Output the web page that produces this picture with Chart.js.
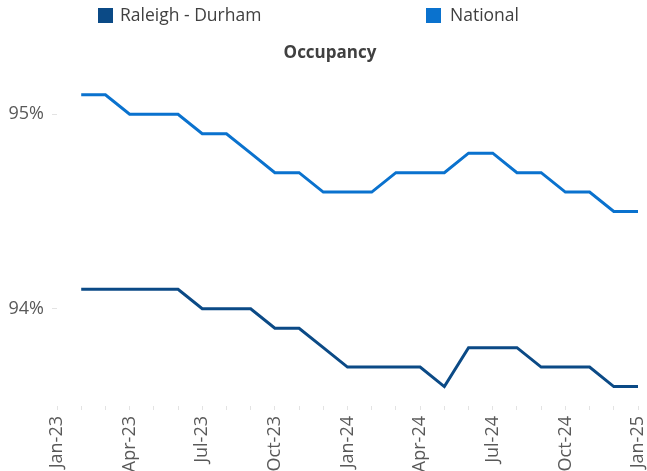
<!DOCTYPE html>
<html>
<head>
<meta charset="utf-8">
<script src="https://cdn.jsdelivr.net/npm/chart.js@4/dist/chart.umd.min.js"></script>
<style>
  html, body { margin: 0; padding: 0; background: #ffffff; }
  #wrap { position: relative; width: 647px; height: 471px; overflow: hidden; }
  #chart { position: absolute; left: 0; top: 0; }
  .lg-box { position: absolute; top: 8px; width: 15px; height: 15px; }
  .lg-text { position: absolute; top: 6px; font-family: "Open Sans", sans-serif; font-size: 17.5px; line-height: 1; color: #404040; white-space: nowrap; }
</style>
</head>
<body>
<div id="wrap">
  <canvas id="chart" width="647" height="471"></canvas>
  <div class="lg-box" id="lgBox0" style="left:98px;"></div>
  <div class="lg-text" id="lgText0" style="left:120px;"></div>
  <div class="lg-box" id="lgBox1" style="left:426px;"></div>
  <div class="lg-text" id="lgText1" style="left:450px;"></div>
</div>
<script>
// ---- Data ----
const months = ["Jan-23","Feb-23","Mar-23","Apr-23","May-23","Jun-23","Jul-23","Aug-23","Sep-23","Oct-23","Nov-23","Dec-23",
                "Jan-24","Feb-24","Mar-24","Apr-24","May-24","Jun-24","Jul-24","Aug-24","Sep-24","Oct-24","Nov-24","Dec-24",
                "Jan-25"];
const raleighDurham = [null, 94.1, 94.1, 94.1, 94.1, 94.1, 94.0, 94.0, 94.0, 93.9, 93.9, 93.8,
                       93.7, 93.7, 93.7, 93.7, 93.6, 93.8, 93.8, 93.8, 93.7, 93.7, 93.7, 93.6,
                       93.6];
const national = [null, 95.1, 95.1, 95.0, 95.0, 95.0, 94.9, 94.9, 94.8, 94.7, 94.7, 94.6,
                  94.6, 94.6, 94.7, 94.7, 94.7, 94.8, 94.8, 94.7, 94.7, 94.6, 94.6, 94.5,
                  94.5];
const seriesNames = ["Raleigh - Durham", "National"];
const yTickValues = [94, 95];
const chartTitle = "Occupancy";

const colors = ["#0B4A86", "#0A72CE"];

// HTML legend
seriesNames.forEach((n, i) => {
  document.getElementById('lgBox' + i).style.background = colors[i];
  document.getElementById('lgText' + i).textContent = n;
});

// shift the title block so that it is centred like the reference
const titleShift = {
  id: 'titleShift',
  afterLayout(chart) {
    if (chart.titleBlock) { chart.titleBlock.left = 22; }
  }
};

const ctx = document.getElementById('chart').getContext('2d');
new Chart(ctx, {
  type: 'line',
  data: {
    labels: months,
    datasets: [
      { label: seriesNames[0], data: raleighDurham, borderColor: colors[0], backgroundColor: colors[0],
        borderWidth: 3, pointRadius: 0, tension: 0, fill: false },
      { label: seriesNames[1], data: national, borderColor: colors[1], backgroundColor: colors[1],
        borderWidth: 3, pointRadius: 0, tension: 0, fill: false }
    ]
  },
  plugins: [titleShift],
  options: {
    responsive: false,
    animation: false,
    devicePixelRatio: 1,
    layout: { padding: { left: 0, right: 9, top: 0, bottom: 0 } },
    plugins: {
      legend: { display: false },
      tooltip: { enabled: false },
      title: {
        display: true,
        text: chartTitle,
        color: '#404040',
        font: { family: 'Open Sans', size: 17, weight: 'bold', lineHeight: 1.2 },
        padding: { top: 43, bottom: 12 }
      }
    },
    scales: {
      x: {
        type: 'category',
        offset: false,
        border: { display: false },
        grid: { display: true, drawOnChartArea: false, drawTicks: true, tickLength: 4, color: '#e3e3e3', lineWidth: 1 },
        ticks: {
          autoSkip: false,
          minRotation: 90,
          maxRotation: 90,
          padding: 6,
          color: '#595959',
          font: { family: 'Open Sans', size: 18 },
          callback: function(value, index) { return index % 3 === 0 ? months[index] : ''; }
        },
        afterFit: function(scale) { scale.height = 65; scale.paddingLeft = 0; scale.paddingRight = 0; }
      },
      y: {
        min: 93.5,
        max: 95.2,
        border: { display: false },
        grid: { display: true, drawOnChartArea: false, drawTicks: true, tickLength: 5, color: '#e3e3e3' },
        ticks: {
          padding: 8,
          color: '#595959',
          font: { family: 'Open Sans', size: 18 },
          callback: function(v) { return v + '%'; }
        },
        afterBuildTicks: function(scale) { scale.ticks = yTickValues.map(v => ({ value: v })); },
        afterFit: function(scale) { scale.width = 57; scale.paddingTop = 0; scale.paddingBottom = 0; }
      }
    }
  }
});
</script>
</body>
</html>
